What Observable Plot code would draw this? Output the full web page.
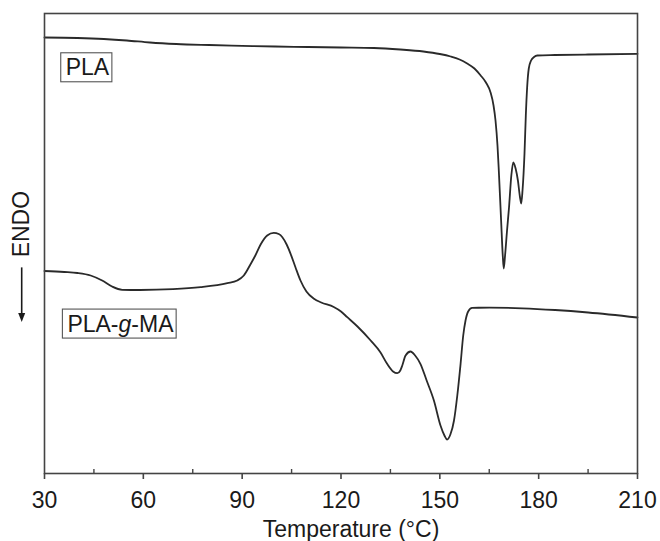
<!DOCTYPE html>
<html><head><meta charset="utf-8">
<script src="https://cdn.jsdelivr.net/npm/d3@7"></script>
<script src="https://cdn.jsdelivr.net/npm/@observablehq/plot@0.6"></script>
<style>body{margin:0;background:#fff} svg{display:block}</style>
</head><body>
<script>
// Temperature (°C) and heat flow (arbitrary units, endo down)
const plaT = [30,40,48,55,62,70,80,90,100,110,120,130,138,145,150,153.3,156,158.3,160.5,162.4,164,165.4,166.3,166.9,167.5,167.9,168.6,169.1,169.4,169.8,170.4,171,171.7,172.3,173,173.7,174.3,174.7,175.1,175.7,176.1,176.5,177,177.7,178.6,179.6,185,195,210];
const plaV = [4.36,4.355,4.345,4.33,4.31,4.295,4.285,4.277,4.27,4.265,4.26,4.255,4.24,4.22,4.195,4.17,4.14,4.10,4.05,3.98,3.91,3.81,3.68,3.53,3.28,3.03,2.53,2.18,2.05,2.18,2.43,2.66,2.98,3.11,3.05,2.93,2.77,2.70,2.83,3.20,3.58,3.86,4.05,4.13,4.165,4.18,4.185,4.19,4.197];
const gmaT = [30,36,40,44,47.5,50.5,53.6,59,69,77.4,85.5,88.5,90.5,92.5,94,95.6,97.6,99.6,101.1,102.2,103.5,104.7,106.2,107.7,109.5,111.8,114,117.8,120,121.9,125,129,132,134,135.8,137.1,138,138.6,139.6,141.1,142.5,144.1,146,148.2,150.2,151.4,152.2,153.2,154.3,155.3,156.3,157.1,157.8,158.6,159.8,165,175,185,195,210];
const gmaV = [2.025,2.015,2.005,1.98,1.93,1.87,1.837,1.835,1.843,1.863,1.903,1.93,1.98,2.09,2.18,2.29,2.38,2.407,2.395,2.363,2.29,2.197,2.06,1.93,1.82,1.747,1.71,1.665,1.62,1.563,1.47,1.33,1.21,1.097,1.02,1.003,1.03,1.08,1.18,1.22,1.18,1.097,0.93,0.73,0.48,0.38,0.34,0.39,0.53,0.78,1.097,1.38,1.53,1.62,1.657,1.658,1.652,1.635,1.61,1.56];
const seriesNames = ["PLA", "PLA-g-MA"];
const labelT = [36.6, 37.1];
const labelV = [4.06, 1.497];
const xTicks = [30, 60, 90, 120, 150, 180, 210];
const xMinor = [45, 75, 105, 135, 165, 195];
const xLabel = "Temperature (°C)";
const yLabel = "ENDO";

const data = [
  ...plaT.map((t, i) => ({s: seriesNames[0], t, v: plaV[i]})),
  ...gmaT.map((t, i) => ({s: seriesNames[1], t, v: gmaV[i]}))
];
const font = "'Liberation Sans', Arial, Helvetica, sans-serif";
const ink = "#1a1a1a";

const yLabelMark = (index, scales, values, dims) => {
  const g = d3.create("svg:g").attr("font-family", font);
  const cx = dims.marginLeft - 23.5;
  const top = dims.marginTop;
  const ph = dims.height - dims.marginTop - dims.marginBottom;
  const cy = top + ph * 0.459;
  g.append("text")
    .attr("transform", `translate(${cx},${cy}) rotate(-90)`)
    .attr("text-anchor", "middle").attr("dy", "0.36em")
    .attr("font-size", 23).attr("fill", ink).text(yLabel);
  const ax = cx + 1.2, y0 = top + ph * 0.553, y1 = top + ph * 0.672;
  g.append("line").attr("x1", ax).attr("x2", ax).attr("y1", y0).attr("y2", y1 - 7)
    .attr("stroke", ink).attr("stroke-width", 1.6);
  g.append("path").attr("d", `M${ax - 3.5},${y1 - 9}L${ax + 3.5},${y1 - 9}L${ax},${y1}Z`).attr("fill", ink);
  return g.node();
};

const seriesLabelMark = (index, scales) => {
  const g = d3.create("svg:g").attr("font-family", font).attr("font-size", 23)
    .attr("fill", ink).attr("text-anchor", "start");
  seriesNames.forEach((name, i) => {
    const t = g.append("text").attr("class", "series-label").attr("text-anchor", "start")
      .attr("x", scales.x(labelT[i])).attr("y", scales.y(labelV[i])).attr("dy", "0.36em");
    const parts = name.split("-");
    if (parts.length === 3) {
      t.append("tspan").text(parts[0] + "-");
      t.append("tspan").attr("font-style", "italic").text(parts[1]);
      t.append("tspan").text("-" + parts[2]);
    } else t.text(name);
  });
  return g.node();
};

const chart = Plot.plot({
  width: 660, height: 541,
  marginTop: 13, marginRight: 23, marginBottom: 68, marginLeft: 44,
  style: {fontFamily: font, background: "#fff", color: ink},
  x: {domain: [30, 210]},
  y: {domain: [0, 4.6], axis: null},
  marks: [
    Plot.line(data, {x: "t", y: "v", z: "s", stroke: "#2a2a2a", strokeWidth: 1.8, curve: "monotone-x"}),
    Plot.frame({stroke: "#444", strokeWidth: 1.6}),
    Plot.axisX({ticks: xTicks, tickSize: 6, tickPadding: 12, fontSize: 23, label: null, stroke: "#444", strokeWidth: 1.6, fill: ink}),
    Plot.axisX({ticks: xMinor, tickSize: -4, tickFormat: () => "", label: null, stroke: "#444", strokeWidth: 1.4}),
    Plot.text([xLabel], {text: d => d, frameAnchor: "bottom", lineAnchor: "middle", dy: 56, dx: 10, fontSize: 23, fill: ink}),
    yLabelMark,
    seriesLabelMark
  ]
});
document.body.append(chart);

// draw boxes around the series labels
d3.select(chart).selectAll("text.series-label").each(function () {
  const b = this.getBBox();
  d3.select(this.parentNode).insert("rect", () => this)
    .attr("x", b.x - 5).attr("y", b.y - 1.5)
    .attr("width", b.width + 7).attr("height", b.height + 3)
    .attr("fill", "#fff").attr("stroke", "#555").attr("stroke-width", 1.1);
});
</script>
</body></html>
